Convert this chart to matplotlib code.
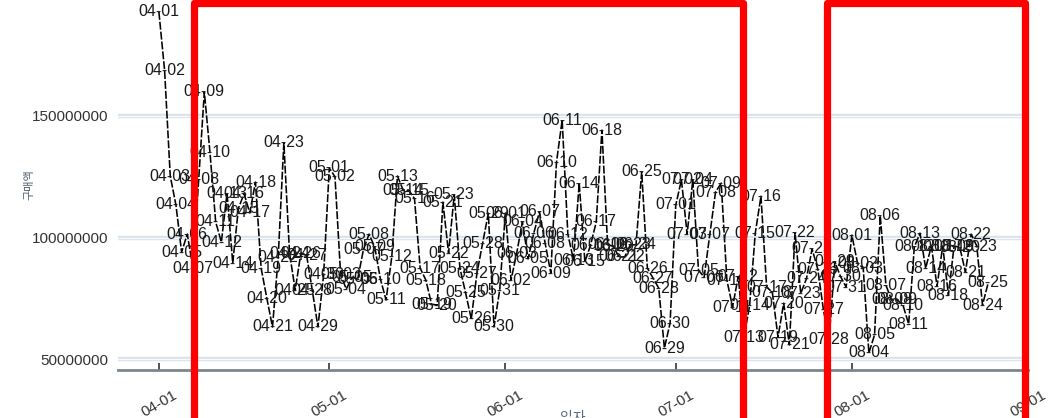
import numpy as np
import pandas as pd
import matplotlib
matplotlib.use("Agg")
import matplotlib.pyplot as plt
import matplotlib.dates as mdates
from matplotlib.patches import Rectangle
from matplotlib.ticker import FuncFormatter

plt.rcParams['font.family'] = ['Liberation Sans', 'Noto Sans CJK KR', 'DejaVu Sans']

# daily purchase amount (millions of won), 04-01 .. 08-25
apr = [192.8, 168.9, 125.3, 113.4, 94.0, 101.4, 87.4, 123.7, 159.9, 134.8,
       106.4, 98.1, 118.3, 89.5, 112.0, 118.0, 110.1, 122.8, 87.4, 75.1,
       63.2, 91.6, 138.9, 93.6, 78.4, 93.6, 92.8, 78.4, 63.2, 84.6]
may = [128.6, 125.0, 84.6, 78.8, 83.7, 82.9, 94.9, 101.4, 96.1, 82.9,
       74.3, 92.0, 125.3, 119.5, 119.5, 116.0, 87.4, 82.5, 72.6, 72.2,
       114.6, 93.6, 117.5, 87.4, 77.2, 66.5, 85.4, 97.7, 110.0, 63.2, 78.4]
jun = [110.0, 82.5, 93.6, 106.4, 91.2, 101.8, 110.5, 97.7, 85.4, 131.0,
       148.3, 101.4, 90.7, 122.4, 90.0, 96.9, 106.4, 144.2, 97.0, 96.5,
       92.0, 92.0, 97.0, 97.0, 127.0, 87.4, 83.3, 79.2, 54.5, 64.8]
jul = [113.4, 123.7, 101.4, 123.7, 86.6, 83.7, 101.4, 118.7, 122.4, 82.5,
       71.4, 84.0, 59.0, 72.0, 101.8, 117.0, 79.6, 77.5, 59.0, 73.0,
       55.8, 102.0, 77.0, 83.0, 95.3, 87.0, 70.2, 58.2, 90.0, 84.0, 79.6]
aug = [101.0, 89.5, 87.4, 52.5, 60.0, 109.0, 80.4, 74.3, 74.3, 72.2,
       64.4, 96.1, 101.8, 87.4, 96.5, 80.0, 96.5, 76.3, 96.5, 96.0,
       85.8, 101.4, 96.5, 72.2, 81.3]

dates = pd.date_range('2023-04-01', '2023-08-25', freq='D')
amount = np.array(apr + may + jun + jul + aug) * 1e6
day_labels = [d.strftime('%m-%d') for d in dates]

month_ticks = pd.to_datetime(['2023-04-01', '2023-05-01', '2023-06-01',
                              '2023-07-01', '2023-08-01', '2023-09-01'])
y_ticks = [50000000, 100000000, 150000000]

fig = plt.figure(figsize=(10.63, 4.18), dpi=100)
ax = fig.add_axes([0.111, 0.1148, 0.856, 0.8852])

# light double grid lines
for yv in y_ticks:
    ax.axhline(yv, color='#d9e1ea', lw=3.2, zorder=0)
    ax.axhline(yv, color='#f7f9fb', lw=1.0, zorder=0)

ax.plot(dates, amount, color='black', lw=1.15, dashes=(5, 1.2), zorder=2)
for d, v, lab in zip(dates, amount, day_labels):
    ax.text(d, v, lab, ha='center', va='center', fontsize=11.5,
            color='#1a1a1a', zorder=3)

ax.set_xlim(pd.Timestamp('2023-04-01') - pd.Timedelta(days=7.2),
            pd.Timestamp('2023-04-01') + pd.Timedelta(days=152.8))
ax.set_ylim(45.5e6, 197.7e6)

ax.set_xticks(month_ticks)
ax.xaxis.set_major_formatter(mdates.DateFormatter('%m-%d'))
ax.tick_params(axis='x', direction='in', length=5, width=1.2, color='#333333',
               pad=13, labelsize=11, labelcolor='#333333')
for t in ax.get_xticklabels():
    t.set_rotation(30)
    t.set_ha('center')

ax.set_yticks(y_ticks)
ax.yaxis.set_major_formatter(FuncFormatter(lambda v, p: f'{int(v)}'))
ax.tick_params(axis='y', length=0, pad=7, labelsize=11, labelcolor='#333333')

for s in ['top', 'right', 'left']:
    ax.spines[s].set_visible(False)
ax.spines['bottom'].set_color('#7d858c')
ax.spines['bottom'].set_linewidth(2)

ax.set_xlabel('일자', fontsize=10, color='#5b6b7b', labelpad=-6,
              family=['Noto Sans CJK KR', 'DejaVu Sans'])
ax.set_ylabel('구매액', fontsize=8, color='#4d5d6d',
              family=['Noto Sans CJK KR', 'DejaVu Sans'])
ax.yaxis.set_label_coords(-0.092, 0.5)

# red highlight boxes
W, H = 1063, 418
for x0, x1 in [(193.5, 743.0), (826.5, 1024.7)]:
    fig.patches.append(Rectangle((x0 / W, -0.05), (x1 - x0) / W, 1 - 3.5 / H + 0.05,
                                 transform=fig.transFigure, fill=False,
                                 edgecolor='#ff0000', lw=5.2, joinstyle='round',
                                 zorder=10))

fig.savefig('out.png', dpi=100)
